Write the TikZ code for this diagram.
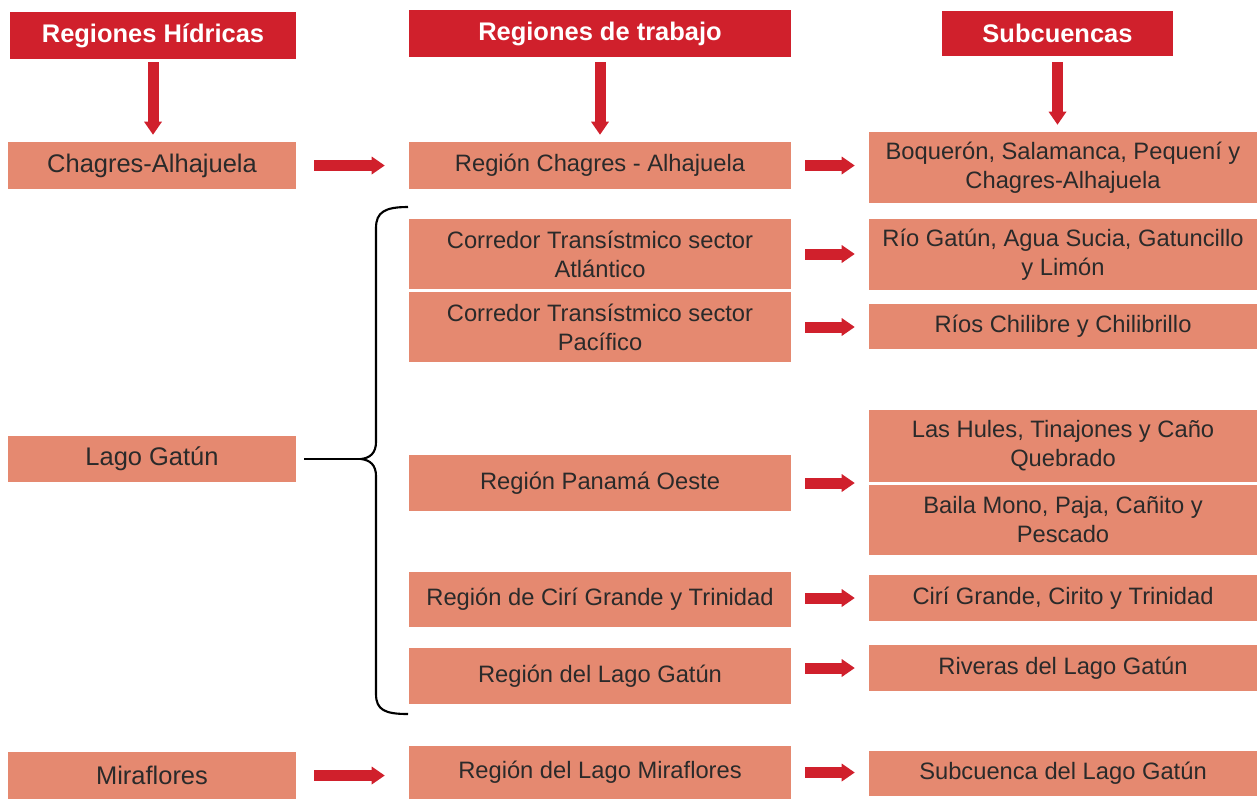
\documentclass[tikz,border=0pt]{standalone}
\usepackage{fontspec}
\setmainfont{Liberation Sans}
\usetikzlibrary{arrows.meta}

\definecolor{rojo}{HTML}{D0202C}
\definecolor{salmon}{HTML}{E58970}
\definecolor{texto}{HTML}{2A2A2A}

\tikzset{
  titulo/.style={fill=rojo, text=white, inner sep=0pt,
    font=\bfseries\fontsize{14.5}{17}\selectfont},
  caja/.style={fill=salmon, text=texto, inner sep=0pt, align=center,
    font=\fontsize{14.5}{16.5}\selectfont},
  cajaA/.style={caja, minimum width=5.76cm},
  cajaB/.style={caja, minimum width=7.64cm, font=\fontsize{13.5}{16.5}\selectfont},
  cajaC/.style={caja, minimum width=7.76cm, font=\fontsize{13.5}{16.5}\selectfont},
  flecha/.style={draw=rojo, line width=0.22cm,
    -{Triangle[length=0.26cm, width=0.36cm, line width=0pt]}},
  llavetrazo/.style={draw=black, line width=1.2pt},
}

\begin{document}
\begin{tikzpicture}[x=0.02cm, y=-0.02cm]
  \useasboundingbox (0,0) rectangle (1257,799);

  % titulos
  \node[titulo, minimum width=5.72cm, minimum height=0.94cm] (hidricas) at (153,35.5) {Regiones Hídricas};
  \node[titulo, minimum width=7.64cm, minimum height=0.94cm] (trabajo) at (600,33.5) {Regiones de trabajo};
  \node[titulo, minimum width=4.62cm, minimum height=0.9cm] (subcuencas) at (1057.5,33.5) {Subcuencas};

  % regiones hidricas
  \node[cajaA, minimum height=0.94cm] (chagres) at (152,165.5) {Chagres-Alhajuela};
  \node[cajaA, minimum height=0.92cm] (gatun) at (152,459) {Lago Gatún};
  \node[cajaA, minimum height=0.94cm] (miraflores) at (152,775.5) {Miraflores};

  % regiones de trabajo
  \node[cajaB, minimum height=0.94cm] (rchagres) at (600,165.5) {Región Chagres - Alhajuela};
  \node[cajaB, minimum height=1.4cm] (atlantico) at (600,254) {Corredor Transístmico sector\\Atlántico};
  \node[cajaB, minimum height=1.4cm] (pacifico) at (600,327) {Corredor Transístmico sector\\Pacífico};
  \node[cajaB, minimum height=1.12cm] (oeste) at (600,483) {Región Panamá Oeste};
  \node[cajaB, minimum height=1.1cm] (ciri) at (600,599.5) {Región de Cirí Grande y Trinidad};
  \node[cajaB, minimum height=1.12cm] (rgatun) at (600,676) {Región del Lago Gatún};
  \node[cajaB, minimum height=1.06cm] (rmiraflores) at (600,772.5) {Región del Lago Miraflores};

  % subcuencas
  \node[cajaC, minimum height=1.42cm] (boqueron) at (1063,167.5) {Boquerón, Salamanca, Pequení y\\Chagres-Alhajuela};
  \node[cajaC, minimum height=1.42cm] (riogatun) at (1063,254.5) {Río Gatún, Agua Sucia, Gatuncillo\\y Limón};
  \node[cajaC, minimum height=0.9cm] (chilibre) at (1063,326.5) {Ríos Chilibre y Chilibrillo};
  \node[cajaC, minimum height=1.44cm] (hules) at (1063,446) {Las Hules, Tinajones y Caño\\Quebrado};
  \node[cajaC, minimum height=1.4cm] (bailamono) at (1063,520) {Baila Mono, Paja, Cañito y\\Pescado};
  \node[cajaC, minimum height=0.92cm] (cirito) at (1063,598) {Cirí Grande, Cirito y Trinidad};
  \node[cajaC, minimum height=0.92cm] (riveras) at (1063,668) {Riveras del Lago Gatún};
  \node[cajaC, minimum height=0.9cm] (sgatun) at (1063,773.5) {Subcuenca del Lago Gatún};

  % flechas hacia abajo
  \draw[flecha, shorten <=0.06cm, shorten >=0.14cm] (hidricas.south) -- (hidricas.south |- chagres.north);
  \draw[flecha, shorten <=0.1cm, shorten >=0.14cm] (trabajo.south) -- (trabajo.south |- rchagres.north);
  \draw[flecha, shorten <=0.12cm, shorten >=0.14cm] (subcuencas.south) -- (subcuencas.south |- boqueron.north);

  % flechas horizontales
  \draw[flecha, shorten <=0.36cm, shorten >=0.48cm] (chagres.east) -- (chagres.east -| rchagres.west);
  \draw[flecha, shorten <=0.36cm, shorten >=0.48cm] (miraflores.east) -- (miraflores.east -| rmiraflores.west);
  \draw[flecha, shorten <=0.28cm, shorten >=0.28cm] (rchagres.east) -- (rchagres.east -| boqueron.west);
  \draw[flecha, shorten <=0.28cm, shorten >=0.28cm] (atlantico.east) -- (atlantico.east -| riogatun.west);
  \draw[flecha, shorten <=0.28cm, shorten >=0.28cm] (pacifico.east) -- (pacifico.east -| chilibre.west);
  \draw[flecha, shorten <=0.28cm, shorten >=0.28cm] (oeste.east) -- (oeste.east -| hules.west);
  \draw[flecha, shorten <=0.28cm, shorten >=0.28cm] (cirito.west -| ciri.east) -- (cirito.west);
  \draw[flecha, shorten <=0.28cm, shorten >=0.28cm] (riveras.west -| rgatun.east) -- (riveras.west);
  \draw[flecha, shorten <=0.28cm, shorten >=0.28cm] (rmiraflores.east) -- (rmiraflores.east -| sgatun.west);

  % llave del Lago Gatun
  \coordinate (llave) at (361,459);
  \draw[llavetrazo] (408,207) .. controls (385,207) and (376,212) .. (376,228)
    -- (376,442) .. controls (376,453) and (370,458) .. (llave)
    .. controls (370,460) and (376,465) .. (376,476)
    -- (376,694) .. controls (376,710) and (385,714) .. (408,714);
  \draw[llavetrazo, shorten <=0.16cm] (gatun.east) -- (gatun.east -| llave);
\end{tikzpicture}
\end{document}
